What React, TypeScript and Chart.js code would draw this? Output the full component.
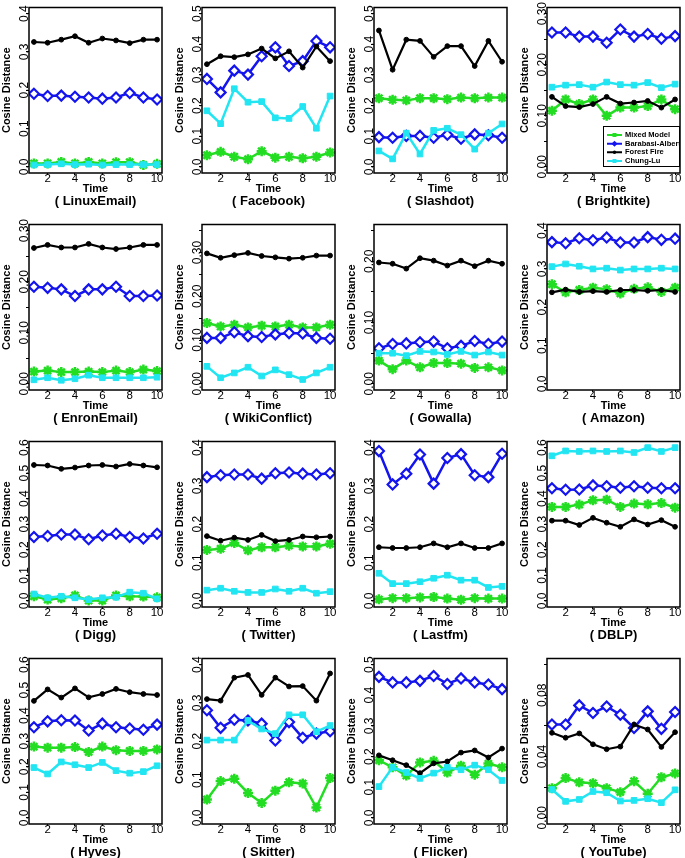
import React, { useEffect, useRef } from 'react';
import { Chart, registerables } from 'chart.js';

Chart.register(...registerables);

// ---------- data ----------
const timeSteps = [1, 2, 3, 4, 5, 6, 7, 8, 9, 10];
const xTickValues = [2, 4, 6, 8, 10];
const seriesLabels = ['Mixed Model', 'Barabasi-Albert', 'Forest Fire', 'Chung-Lu'];

const panelNames = [
  'LinuxEmail', 'Facebook', 'Slashdot', 'Brightkite',
  'EnronEmail', 'WikiConflict', 'Gowalla', 'Amazon',
  'Digg', 'Twitter', 'Lastfm', 'DBLP',
  'Hyves', 'Skitter', 'Flicker', 'YouTube',
];
const yMaxValues = [0.4, 0.5, 0.5, 0.3, 0.3, 0.35, 0.25, 0.4, 0.6, 0.4, 0.4, 0.6, 0.6, 0.4, 0.5, 0.1];
const yStepValues = [0.1, 0.1, 0.1, 0.05, 0.05, 0.05, 0.05, 0.1, 0.1, 0.1, 0.1, 0.1, 0.1, 0.1, 0.1, 0.02];
const yLabelEvery = [1, 1, 1, 2, 2, 2, 2, 1, 1, 1, 1, 1, 1, 1, 1, 2];
const yDecimals = [1, 1, 1, 2, 2, 2, 2, 1, 1, 1, 1, 1, 1, 1, 1, 2];

const linuxEmailMM = [0.009, 0.009, 0.013, 0.009, 0.013, 0.009, 0.012, 0.012, 0.005, 0.008];
const linuxEmailBA = [0.191, 0.185, 0.186, 0.183, 0.181, 0.178, 0.181, 0.193, 0.181, 0.176];
const linuxEmailFF = [0.326, 0.324, 0.332, 0.341, 0.324, 0.335, 0.330, 0.323, 0.332, 0.332];
const linuxEmailCL = [0.005, 0.006, 0.008, 0.006, 0.007, 0.005, 0.006, 0.006, 0.006, 0.006];

const facebookMM = [0.038, 0.049, 0.033, 0.025, 0.051, 0.030, 0.033, 0.028, 0.033, 0.047];
const facebookBA = [0.287, 0.243, 0.314, 0.301, 0.361, 0.390, 0.329, 0.345, 0.411, 0.390];
const facebookFF = [0.335, 0.361, 0.358, 0.367, 0.386, 0.354, 0.377, 0.324, 0.393, 0.345];
const facebookCL = [0.183, 0.141, 0.255, 0.211, 0.213, 0.160, 0.158, 0.197, 0.126, 0.231];

const slashdotMM = [0.224, 0.219, 0.217, 0.224, 0.224, 0.221, 0.226, 0.224, 0.226, 0.226];
const slashdotBA = [0.097, 0.095, 0.101, 0.101, 0.095, 0.105, 0.092, 0.106, 0.103, 0.095];
const slashdotFF = [0.445, 0.317, 0.415, 0.411, 0.359, 0.394, 0.394, 0.329, 0.411, 0.343];
const slashdotCL = [0.052, 0.026, 0.110, 0.042, 0.119, 0.126, 0.105, 0.058, 0.110, 0.140];

const brightkiteMM = [0.110, 0.132, 0.123, 0.132, 0.100, 0.116, 0.116, 0.119, 0.132, 0.113];
const brightkiteBA = [0.263, 0.263, 0.255, 0.255, 0.243, 0.269, 0.255, 0.260, 0.251, 0.256];
const brightkiteFF = [0.137, 0.119, 0.117, 0.123, 0.137, 0.124, 0.126, 0.129, 0.116, 0.132];
const brightkiteCL = [0.156, 0.160, 0.161, 0.156, 0.166, 0.161, 0.160, 0.165, 0.155, 0.162];

const enronEmailMM = [0.024, 0.026, 0.023, 0.023, 0.024, 0.023, 0.026, 0.023, 0.028, 0.025];
const enronEmailBA = [0.190, 0.188, 0.185, 0.172, 0.185, 0.185, 0.190, 0.172, 0.172, 0.173];
const enronEmailFF = [0.266, 0.272, 0.267, 0.267, 0.274, 0.267, 0.264, 0.267, 0.272, 0.272];
const enronEmailCL = [0.008, 0.012, 0.007, 0.010, 0.017, 0.012, 0.012, 0.012, 0.012, 0.013];

const wikiConflictMM = [0.139, 0.131, 0.135, 0.129, 0.133, 0.131, 0.135, 0.129, 0.129, 0.135];
const wikiConflictBA = [0.105, 0.105, 0.118, 0.109, 0.107, 0.113, 0.116, 0.115, 0.105, 0.103];
const wikiConflictFF = [0.298, 0.288, 0.294, 0.299, 0.292, 0.289, 0.286, 0.288, 0.293, 0.293];
const wikiConflictCL = [0.040, 0.014, 0.025, 0.038, 0.018, 0.032, 0.021, 0.010, 0.025, 0.038];

const gowallaMM = [0.038, 0.024, 0.038, 0.027, 0.034, 0.034, 0.033, 0.026, 0.027, 0.022];
const gowallaBA = [0.058, 0.065, 0.066, 0.068, 0.069, 0.058, 0.062, 0.070, 0.065, 0.069];
const gowallaFF = [0.198, 0.196, 0.188, 0.205, 0.201, 0.193, 0.201, 0.192, 0.201, 0.196];
const gowallaCL = [0.050, 0.050, 0.046, 0.053, 0.052, 0.048, 0.053, 0.047, 0.052, 0.047];

const amazonMM = [0.260, 0.239, 0.245, 0.251, 0.247, 0.236, 0.248, 0.252, 0.240, 0.251];
const amazonBA = [0.370, 0.367, 0.380, 0.375, 0.382, 0.369, 0.369, 0.383, 0.376, 0.379];
const amazonFF = [0.239, 0.246, 0.240, 0.242, 0.240, 0.245, 0.245, 0.243, 0.245, 0.240];
const amazonCL = [0.306, 0.313, 0.307, 0.300, 0.302, 0.297, 0.300, 0.300, 0.302, 0.300];

const diggMM = [0.018, 0.005, 0.010, 0.021, 0.001, 0.001, 0.021, 0.018, 0.017, 0.014];
const diggBA = [0.250, 0.254, 0.260, 0.260, 0.241, 0.256, 0.263, 0.250, 0.244, 0.263];
const diggFF = [0.532, 0.530, 0.517, 0.522, 0.530, 0.532, 0.526, 0.536, 0.530, 0.523];
const diggCL = [0.027, 0.012, 0.018, 0.012, 0.005, 0.012, 0.014, 0.034, 0.030, 0.008];

const twitterMM = [0.133, 0.136, 0.151, 0.132, 0.140, 0.140, 0.144, 0.142, 0.142, 0.149];
const twitterBA = [0.323, 0.328, 0.330, 0.330, 0.319, 0.333, 0.335, 0.332, 0.330, 0.333];
const twitterFF = [0.169, 0.157, 0.165, 0.159, 0.172, 0.156, 0.159, 0.168, 0.166, 0.168];
const twitterCL = [0.028, 0.033, 0.025, 0.022, 0.022, 0.031, 0.025, 0.033, 0.020, 0.024];

const lastfmMM = [0.004, 0.007, 0.007, 0.009, 0.010, 0.006, 0.003, 0.007, 0.006, 0.006];
const lastfmBA = [0.391, 0.304, 0.332, 0.382, 0.306, 0.373, 0.383, 0.328, 0.323, 0.384];
const lastfmFF = [0.140, 0.138, 0.138, 0.140, 0.150, 0.140, 0.150, 0.138, 0.138, 0.150];
const lastfmCL = [0.072, 0.045, 0.045, 0.050, 0.059, 0.067, 0.054, 0.054, 0.035, 0.038];

const dblpMM = [0.368, 0.368, 0.377, 0.394, 0.396, 0.368, 0.381, 0.378, 0.383, 0.365];
const dblpBA = [0.441, 0.435, 0.436, 0.452, 0.449, 0.443, 0.449, 0.443, 0.441, 0.441];
const dblpFF = [0.314, 0.314, 0.297, 0.325, 0.306, 0.290, 0.319, 0.299, 0.316, 0.290];
const dblpCL = [0.568, 0.587, 0.585, 0.587, 0.585, 0.587, 0.581, 0.600, 0.585, 0.600];

const hyvesMM = [0.279, 0.275, 0.275, 0.277, 0.258, 0.279, 0.265, 0.262, 0.262, 0.268];
const hyvesBA = [0.355, 0.378, 0.382, 0.381, 0.342, 0.369, 0.355, 0.350, 0.345, 0.365];
const hyvesFF = [0.458, 0.503, 0.471, 0.507, 0.472, 0.485, 0.505, 0.492, 0.485, 0.481];
const hyvesCL = [0.197, 0.172, 0.219, 0.208, 0.197, 0.217, 0.185, 0.175, 0.181, 0.204];

const skitterMM = [0.048, 0.096, 0.102, 0.065, 0.039, 0.071, 0.093, 0.090, 0.027, 0.104];
const skitterBA = [0.281, 0.235, 0.256, 0.254, 0.246, 0.202, 0.250, 0.209, 0.220, 0.226];
const skitterFF = [0.310, 0.306, 0.366, 0.373, 0.321, 0.366, 0.343, 0.344, 0.306, 0.377];
const skitterCL = [0.203, 0.203, 0.203, 0.254, 0.232, 0.220, 0.269, 0.269, 0.225, 0.241];

const flickerMM = [0.188, 0.165, 0.138, 0.181, 0.186, 0.148, 0.170, 0.141, 0.177, 0.165];
const flickerBA = [0.460, 0.442, 0.442, 0.447, 0.463, 0.437, 0.455, 0.442, 0.435, 0.420];
const flickerFF = [0.204, 0.188, 0.172, 0.146, 0.178, 0.184, 0.213, 0.220, 0.197, 0.226];
const flickerCL = [0.102, 0.165, 0.148, 0.129, 0.146, 0.165, 0.157, 0.172, 0.157, 0.122];

const youTubeMM = [0.0194, 0.0260, 0.0232, 0.0226, 0.0194, 0.0168, 0.0239, 0.0157, 0.0265, 0.0290];
const youTubeBA = [0.0609, 0.0609, 0.0734, 0.0684, 0.0727, 0.0673, 0.0587, 0.0695, 0.0581, 0.0691];
const youTubeFF = [0.0555, 0.0523, 0.0551, 0.0480, 0.0448, 0.0465, 0.0609, 0.0577, 0.0463, 0.0559];
const youTubeCL = [0.0185, 0.0108, 0.0120, 0.0172, 0.0164, 0.0110, 0.0114, 0.0125, 0.0099, 0.0183];

const panelSeries = [
  [linuxEmailMM, linuxEmailBA, linuxEmailFF, linuxEmailCL],
  [facebookMM, facebookBA, facebookFF, facebookCL],
  [slashdotMM, slashdotBA, slashdotFF, slashdotCL],
  [brightkiteMM, brightkiteBA, brightkiteFF, brightkiteCL],
  [enronEmailMM, enronEmailBA, enronEmailFF, enronEmailCL],
  [wikiConflictMM, wikiConflictBA, wikiConflictFF, wikiConflictCL],
  [gowallaMM, gowallaBA, gowallaFF, gowallaCL],
  [amazonMM, amazonBA, amazonFF, amazonCL],
  [diggMM, diggBA, diggFF, diggCL],
  [twitterMM, twitterBA, twitterFF, twitterCL],
  [lastfmMM, lastfmBA, lastfmFF, lastfmCL],
  [dblpMM, dblpBA, dblpFF, dblpCL],
  [hyvesMM, hyvesBA, hyvesFF, hyvesCL],
  [skitterMM, skitterBA, skitterFF, skitterCL],
  [flickerMM, flickerBA, flickerFF, flickerCL],
  [youTubeMM, youTubeBA, youTubeFF, youTubeCL],
];

// ---------- styles ----------
const FONT = '"Liberation Sans", Arial, Helvetica, sans-serif';
const GREEN = '#22dd22';
const BLUE = '#1414ee';
const BLACK = '#000000';
const CYAN = '#22e5f2';
const seriesColors = [GREEN, BLUE, BLACK, CYAN];
const lineWidths = [2.5, 2.5, 2.2, 2.5];

const colX = [0, 173, 345, 518];
const rowY = [0, 217, 434, 651];
const CW = 172;
const CH = 217;

const boxPlugin = {
  id: 'rbox',
  afterDatasetsDraw(chart: any) {
    const { ctx, chartArea: a } = chart;
    ctx.save();
    ctx.strokeStyle = '#000';
    ctx.lineWidth = 1.5;
    ctx.strokeRect(a.left, a.top, a.right - a.left, a.bottom - a.top);
    ctx.restore();
  },
};

const legendPlugin = {
  id: 'rlegend',
  afterDatasetsDraw(chart: any, _args: any, opts: any) {
    if (!opts || !opts.show) return;
    const { ctx, chartArea: a } = chart;
    const w = 77;
    const h = 41;
    const x = a.right - w;
    const y = a.bottom - 6 - h;
    ctx.save();
    ctx.beginPath();
    ctx.rect(a.left, a.top, a.right - a.left, a.bottom - a.top);
    ctx.clip();
    ctx.fillStyle = '#fff';
    ctx.fillRect(x, y, w, h);
    ctx.strokeStyle = '#000';
    ctx.lineWidth = 1;
    ctx.strokeRect(x + 0.5, y + 0.5, w - 1, h - 1);
    const rows = [9, 17.7, 26.3, 35];
    seriesLabels.forEach((lab, i) => {
      const cy = y + rows[i];
      const col = seriesColors[i];
      ctx.strokeStyle = col;
      ctx.lineWidth = 2;
      ctx.beginPath();
      ctx.moveTo(x + 4, cy);
      ctx.lineTo(x + 19, cy);
      ctx.stroke();
      const mx = x + 11.5;
      ctx.fillStyle = col;
      ctx.beginPath();
      if (i === 1) {
        ctx.moveTo(mx - 3, cy);
        ctx.lineTo(mx, cy - 3);
        ctx.lineTo(mx + 3, cy);
        ctx.lineTo(mx, cy + 3);
        ctx.closePath();
        ctx.fill();
      } else if (i === 2) {
        ctx.arc(mx, cy, 1.8, 0, Math.PI * 2);
        ctx.fill();
      } else {
        ctx.fillRect(mx - 2, cy - 2, 4, 4);
      }
      ctx.fillStyle = '#000';
      ctx.font = `bold 7.5px ${FONT}`;
      ctx.textBaseline = 'middle';
      ctx.textAlign = 'left';
      ctx.fillText(lab, x + 22, cy);
    });
    ctx.restore();
  },
};

function Panel({ idx }: { idx: number }) {
  const ref = useRef<HTMLCanvasElement>(null);
  useEffect(() => {
    if (!ref.current) return;
    const ymax = yMaxValues[idx];
    const step = yStepValues[idx];
    const n = Math.round(ymax / step);
    const yTicks = Array.from({ length: n + 1 }, (_, i) => Number((i * step).toFixed(4)));
    const yLabels = yTicks.map((v, i) => (i % yLabelEvery[idx] === 0 ? v.toFixed(yDecimals[idx]) : ''));
    const mctx = document.createElement('canvas').getContext('2d') as CanvasRenderingContext2D;
    mctx.font = `12px ${FONT}`;
    const widest = Math.max(...yLabels.map((l) => mctx.measureText(l).width));
    const tl = 3;
    const pad = 4.5 - tl - widest / 2;

    const series = panelSeries[idx];
    const pointCfg = [
      { pointStyle: 'star', pointRadius: 5, pointBorderWidth: 2.5, pointBackgroundColor: GREEN },
      { pointStyle: 'rectRot', pointRadius: 5, pointBorderWidth: 2.2, pointBackgroundColor: '#ffffff' },
      { pointStyle: 'circle', pointRadius: 2.4, pointBorderWidth: 1, pointBackgroundColor: BLACK },
      { pointStyle: 'rect', pointRadius: 4, pointBorderWidth: 1, pointBackgroundColor: CYAN },
    ];
    const datasets = series.map((arr, s) => ({
      label: seriesLabels[s],
      data: timeSteps.map((t, i) => ({ x: t, y: arr[i] })),
      borderColor: seriesColors[s],
      backgroundColor: seriesColors[s],
      pointBorderColor: seriesColors[s],
      borderWidth: lineWidths[s],
      tension: 0,
      fill: false,
      order: 3 - s,
      ...pointCfg[s],
    }));

    const chart = new Chart(ref.current, {
      type: 'line',
      data: { datasets } as any,
      plugins: [legendPlugin, boxPlugin],
      options: {
        animation: false,
        responsive: false,
        maintainAspectRatio: false,
        events: [],
        layout: { padding: { left: 0, top: 4, right: 10, bottom: 0 } },
        plugins: {
          legend: { display: false },
          tooltip: { enabled: false },
          title: {
            display: true,
            position: 'bottom',
            fullSize: false,
            text: `( ${panelNames[idx]})`,
            color: '#000',
            font: { family: FONT, size: 13, weight: 'bold', lineHeight: 1 },
            padding: { top: 1, bottom: 9 },
          },
          rlegend: { show: idx === 3 },
        } as any,
        scales: {
          x: {
            type: 'linear',
            min: 0.64,
            max: 10.36,
            afterBuildTicks: (s: any) => {
              s.ticks = xTickValues.map((v) => ({ value: v }));
            },
            afterFit: (s: any) => {
              s.height = 21;
            },
            grid: { display: true, drawOnChartArea: false, drawTicks: true, tickLength: 2, color: '#000' },
            border: { display: false },
            ticks: {
              color: '#000',
              font: { family: FONT, size: 11.5 },
              padding: -3,
              maxRotation: 0,
              minRotation: 0,
              autoSkip: false,
              callback: (v: any) => String(v),
            },
            title: {
              display: true,
              text: 'Time',
              color: '#000',
              font: { family: FONT, size: 11, weight: 'bold', lineHeight: 1 },
              padding: { top: 0, bottom: 0 },
            },
          },
          y: {
            type: 'linear',
            min: -0.04 * ymax,
            max: 1.04 * ymax,
            afterBuildTicks: (s: any) => {
              s.ticks = yTicks.map((v) => ({ value: v }));
            },
            afterFit: (s: any) => {
              s.width = 29;
            },
            grid: { display: true, drawOnChartArea: false, drawTicks: true, tickLength: tl, color: '#000' },
            border: { display: false },
            ticks: {
              color: '#000',
              font: { family: FONT, size: 12 },
              padding: pad,
              minRotation: 90,
              maxRotation: 90,
              autoSkip: false,
              crossAlign: 'center',
              callback: (_v: any, i: number) => yLabels[i],
            },
            title: {
              display: true,
              text: 'Cosine Distance',
              color: '#000',
              font: { family: FONT, size: 11, weight: 'bold', lineHeight: 1 },
              padding: { top: 1.5, bottom: 0 },
            },
          },
        } as any,
      },
    });
    return () => chart.destroy();
  }, [idx]);

  return (
    <canvas
      ref={ref}
      width={CW}
      height={CH}
      style={{ position: 'absolute', left: colX[idx % 4], top: rowY[Math.floor(idx / 4)], width: CW, height: CH }}
    />
  );
}

export default function App() {
  return (
    <div
      style={{
        position: 'fixed',
        left: 0,
        top: 0,
        width: 685,
        height: 858,
        overflow: 'hidden',
        background: '#fff',
      }}
    >
      {panelNames.map((name, i) => (
        <Panel key={name} idx={i} />
      ))}
    </div>
  );
}
